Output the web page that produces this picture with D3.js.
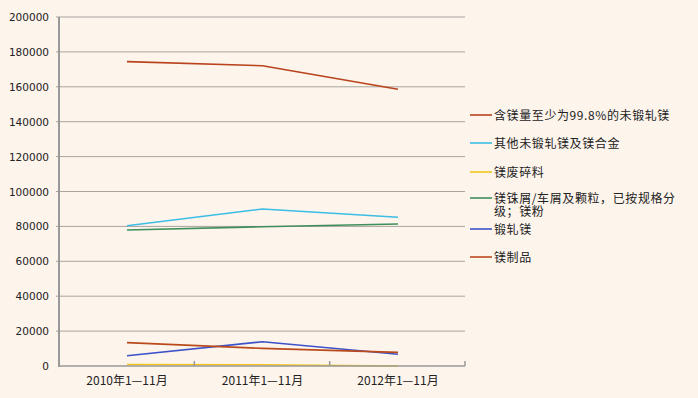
<!doctype html>
<html>
<head>
<meta charset="utf-8">
<title>镁出口</title>
<script src="https://cdnjs.cloudflare.com/ajax/libs/d3/7.8.5/d3.min.js"></script>
<style>
  html, body { margin: 0; padding: 0; background: #fdf4ec; }
  svg { display: block; }
  .ytick { font-family: "DejaVu Sans", Verdana, sans-serif; font-size: 10.5px; fill: #222; }
  .xtick, .legend text { font-family: "Noto Sans CJK SC", sans-serif; font-size: 12px; fill: #222; }
  .legend text { letter-spacing: 0.6px; }
</style>
</head>
<body>
<div id="chart"></div>
<script>
// data
const periods = ["2010年1—11月", "2011年1—11月", "2012年1—11月"];
const seriesNames = [
  "含镁量至少为99.8%的未锻轧镁",
  "其他未锻轧镁及镁合金",
  "镁废碎料",
  "镁铢屑/车屑及颗粒，已按规格分级；镁粉",
  "锻轧镁",
  "镁制品"
];
const seriesColors = ["#b9431c", "#3cbde4", "#f2c51c", "#3f8f5c", "#3c52c8", "#b94a1c"];
const pureMg = [174400, 172100, 158600];
const otherMg = [80400, 90000, 85200];
const scrapMg = [900, 700, 0];
const powderMg = [77900, 79800, 81400];
const wroughtMg = [5900, 13900, 6700];
const mgProducts = [13400, 10100, 7800];
const seriesValues = [pureMg, otherMg, scrapMg, powderMg, wroughtMg, mgProducts];
const yTicks = [0, 20000, 40000, 60000, 80000, 100000, 120000, 140000, 160000, 180000, 200000];

const width = 698, height = 398;
const svg = d3.select("#chart").append("svg")
  .attr("width", width).attr("height", height);

const x = d3.scalePoint().domain(periods).range([127, 398]);
const y = d3.scaleLinear().domain([0, 200000]).range([366, 17]);
const left = 59, right = 465;

// grid
svg.append("g").selectAll("line")
  .data(yTicks.filter(d => d > 0))
  .join("line")
  .attr("x1", left - 3).attr("x2", right)
  .attr("y1", d => y(d)).attr("y2", d => y(d))
  .attr("stroke", "#a8a4a0").attr("stroke-width", 1);

svg.append("g").selectAll("text")
  .data(yTicks)
  .join("text")
  .attr("class", "ytick")
  .attr("x", 49).attr("y", d => y(d) + 4)
  .attr("text-anchor", "end")
  .text(d => d);

// series lines
const line = d3.line().x((d, i) => x(periods[i])).y(d => y(d));
svg.append("g").selectAll("path")
  .data(seriesValues)
  .join("path")
  .attr("d", d => line(d))
  .attr("fill", "none")
  .attr("stroke", (d, i) => seriesColors[i])
  .attr("stroke-width", 1.6);

// axes
svg.append("line").attr("x1", left).attr("x2", left).attr("y1", y(200000)).attr("y2", y(0) + 1)
  .attr("stroke", "#999").attr("stroke-width", 2);
svg.append("line").attr("x1", left).attr("x2", right).attr("y1", y(0)).attr("y2", y(0))
  .attr("stroke", "#999").attr("stroke-width", 1.5);
svg.append("g").selectAll("line")
  .data([1, 2, 3])
  .join("line")
  .attr("x1", i => left + (right - left) * i / 3).attr("x2", i => left + (right - left) * i / 3)
  .attr("y1", y(0) - 5).attr("y2", y(0))
  .attr("stroke", "#999").attr("stroke-width", 1.5);

svg.append("g").selectAll("text")
  .data(periods)
  .join("text")
  .attr("class", "xtick")
  .attr("x", d => x(d)).attr("y", 385)
  .attr("text-anchor", "middle")
  .text(d => d);

// legend
const legendRows = [115, 143, 172, 198, 229, 257];
const legend = svg.append("g").attr("class", "legend");
legend.selectAll("line")
  .data(seriesNames)
  .join("line")
  .attr("x1", 470).attr("x2", 492)
  .attr("y1", (d, i) => legendRows[i]).attr("y2", (d, i) => legendRows[i])
  .attr("stroke", (d, i) => seriesColors[i]).attr("stroke-width", 1.6);
legend.selectAll("text")
  .data(seriesNames)
  .join("text")
  .attr("x", 494).attr("y", (d, i) => legendRows[i] + 4.5)
  .each(function (d) {
    const t = d3.select(this);
    if (d.indexOf("已按规格分级") >= 0) {
      t.append("tspan").text("镁铢屑/车屑及颗粒，已按规格分");
      t.append("tspan").attr("x", 494).attr("dy", 13.5).text("级；镁粉");
    } else {
      t.text(d);
    }
  });
</script>
</body>
</html>
